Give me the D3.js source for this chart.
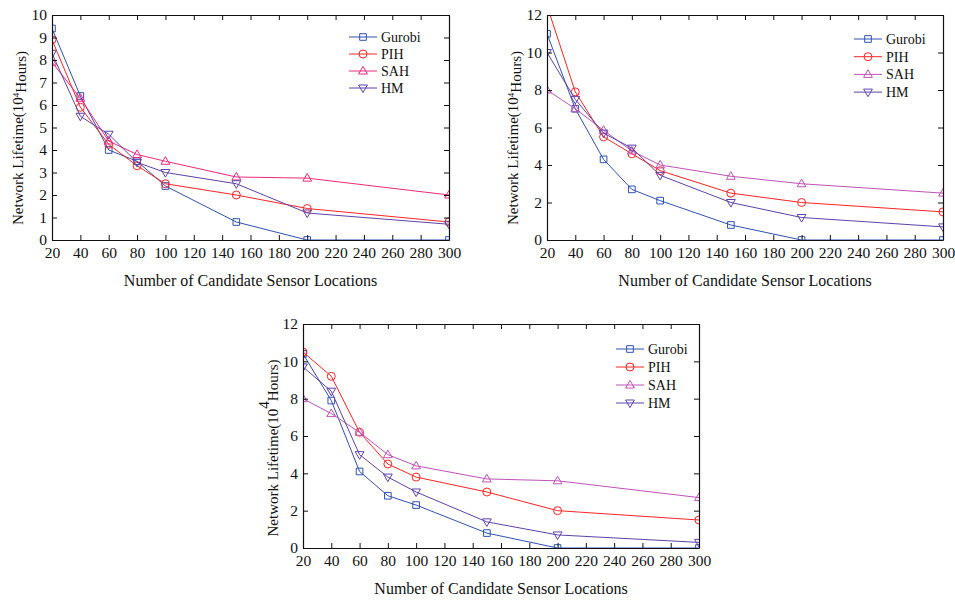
<!DOCTYPE html>
<html>
<head>
<meta charset="utf-8">
<script src="https://cdn.jsdelivr.net/npm/d3@7/dist/d3.min.js"></script>
<style>
    html, body { margin: 0; padding: 0; background: #fff; }
    svg { display: block; font-family: "Liberation Serif", "Times New Roman", serif; }
</style>
</head>
<body>
<div id="chart"></div>
<script>
// Data
var xValues = [20, 40, 60, 80, 100, 150, 200, 300];
var xTickValues = [20, 40, 60, 80, 100, 120, 140, 160, 180, 200, 220, 240, 260, 280, 300];
var yTicksA = [0, 1, 2, 3, 4, 5, 6, 7, 8, 9, 10];
var yTicksB = [0, 2, 4, 6, 8, 10, 12];
var seriesNames = ['Gurobi', 'PIH', 'SAH', 'HM'];

// top left panel
var gurobiA = [9.4, 6.4, 4.0, 3.5, 2.4, 0.8, 0, 0];
var pihA = [8.9, 5.9, 4.25, 3.3, 2.5, 2.0, 1.4, 0.8];
var sahA = [7.9, 6.3, 4.4, 3.8, 3.5, 2.8, 2.75, 2.0];
var hmA = [8.3, 5.5, 4.7, 3.45, 3.0, 2.5, 1.2, 0.7];

// top right panel
var gurobiB = [11.0, 7.0, 4.3, 2.7, 2.1, 0.8, 0, 0];
var pihB = [12.5, 7.9, 5.5, 4.6, 3.7, 2.5, 2.0, 1.5];
var sahB = [8.0, 7.0, 5.85, 4.75, 4.0, 3.4, 3.0, 2.5];
var hmB = [10.0, 7.5, 5.7, 4.9, 3.45, 2.0, 1.2, 0.7];

// bottom panel
var gurobiC = [10.4, 7.9, 4.1, 2.8, 2.3, 0.8, 0, 0];
var pihC = [10.5, 9.2, 6.2, 4.5, 3.8, 3.0, 2.0, 1.5];
var sahC = [8.0, 7.2, 6.2, 5.0, 4.4, 3.7, 3.6, 2.7];
var hmC = [9.7, 8.4, 5.0, 3.8, 3.0, 1.4, 0.7, 0.3];

var colors = { Gurobi: '#2f52b5', PIH: '#ff2424', HM: '#5f42aa' };
var markers = { Gurobi: 'square', PIH: 'circle', SAH: 'up', HM: 'down' };

var panels = [
    { id: 'a', left: 52, right: 449, top: 15, bottom: 240, yMax: 10, yTicks: yTicksA,
      values: [gurobiA, pihA, sahA, hmA], sahColor: '#f0287c',
      legendX: 349, legendY: 37, legendStep: 17, labelX: 18, labelY: 138, supBig: false },
    { id: 'b', left: 547, right: 943, top: 15, bottom: 240, yMax: 12, yTicks: yTicksB,
      values: [gurobiB, pihB, sahB, hmB], sahColor: '#c052b8',
      legendX: 854, legendY: 39, legendStep: 17.7, labelX: 513, labelY: 138, supBig: false },
    { id: 'c', left: 303, right: 699, top: 324, bottom: 548, yMax: 12, yTicks: yTicksB,
      values: [gurobiC, pihC, sahC, hmC], sahColor: '#c052b8',
      legendX: 616, legendY: 349, legendStep: 18, labelX: 273, labelY: 448, supBig: true }
];

var svg = d3.select('#chart').append('svg')
    .attr('width', 955)
    .attr('height', 601);

function markerPath(type) {
    if (type === 'square') return d3.symbol(d3.symbolSquare, 44)();
    if (type === 'up') return 'M0,-4.6L4.4,3L-4.4,3Z';
    if (type === 'down') return 'M0,4.6L4.4,-3L-4.4,-3Z';
    return null;
}

function drawMarker(g, type, color, cx, cy) {
    if (type === 'circle') {
        g.append('circle')
            .attr('cx', cx).attr('cy', cy).attr('r', 4)
            .attr('fill', 'none').attr('stroke', color).attr('stroke-width', 1);
    } else {
        g.append('path')
            .attr('d', markerPath(type))
            .attr('transform', 'translate(' + cx + ',' + cy + ')')
            .attr('fill', 'none').attr('stroke', color).attr('stroke-width', 1);
    }
}

function styleAxis(g) {
    g.attr('font-family', null).attr('font-size', null);
    g.select('.domain').attr('stroke', '#111').attr('stroke-width', 1.2);
    g.selectAll('.tick line').attr('stroke', '#111');
    g.selectAll('.tick text').style('font-size', '15.5px').attr('fill', '#111');
}

panels.forEach(function (p) {
    var x = d3.scaleLinear().domain([20, 300]).range([p.left, p.right]);
    var y = d3.scaleLinear().domain([0, p.yMax]).range([p.bottom, p.top]);
    var w = p.right - p.left;
    var h = p.bottom - p.top;

    svg.append('clipPath').attr('id', 'clip-' + p.id)
        .append('rect')
        .attr('x', p.left).attr('y', p.top)
        .attr('width', w).attr('height', h);

    var plot = svg.append('g').attr('clip-path', 'url(#clip-' + p.id + ')');

    var line = d3.line()
        .x(function (d, i) { return x(xValues[i]); })
        .y(function (d) { return y(d); });

    seriesNames.forEach(function (name, k) {
        var color = name === 'SAH' ? p.sahColor : colors[name];
        var vals = p.values[k];
        plot.append('path')
            .datum(vals)
            .attr('fill', 'none')
            .attr('stroke', color)
            .attr('stroke-width', 1)
            .attr('d', line);
        vals.forEach(function (v, i) {
            drawMarker(plot, markers[name], color, x(xValues[i]), y(v));
        });
    });

    // Axes, ticks pointing inward on all four sides
    svg.append('g')
        .attr('transform', 'translate(0,' + p.bottom + ')')
        .call(d3.axisBottom(x).tickValues(xTickValues).tickSizeInner(-5).tickSizeOuter(0).tickPadding(7))
        .call(styleAxis);
    svg.append('g')
        .attr('transform', 'translate(0,' + p.top + ')')
        .call(d3.axisTop(x).tickValues(xTickValues).tickSizeInner(-5).tickSizeOuter(0).tickFormat(''))
        .call(styleAxis);
    svg.append('g')
        .attr('transform', 'translate(' + p.left + ',0)')
        .call(d3.axisLeft(y).tickValues(p.yTicks).tickSizeInner(-5).tickSizeOuter(0).tickPadding(5))
        .call(styleAxis);
    svg.append('g')
        .attr('transform', 'translate(' + p.right + ',0)')
        .call(d3.axisRight(y).tickValues(p.yTicks).tickSizeInner(-5).tickSizeOuter(0).tickFormat(''))
        .call(styleAxis);

    // x title
    svg.append('text')
        .attr('x', (p.left + p.right) / 2)
        .attr('y', p.bottom + 46)
        .attr('text-anchor', 'middle')
        .style('font-size', '16px')
        .attr('fill', '#111')
        .text('Number of Candidate Sensor Locations');

    // y title
    var yt = svg.append('text')
        .attr('transform', 'translate(' + p.labelX + ',' + p.labelY + ') rotate(-90)')
        .attr('text-anchor', 'middle')
        .attr('dy', '0.35em')
        .style('font-size', '15px')
        .attr('fill', '#111');
    yt.append('tspan').text('Network Lifetime(10');
    yt.append('tspan')
        .attr('dy', p.supBig ? '-0.6em' : '-0.5em')
        .style('font-size', p.supBig ? '15px' : '9px')
        .text('4');
    yt.append('tspan')
        .attr('dy', p.supBig ? '0.6em' : '0.5em')
        .text('Hours)');

    // legend
    var lg = svg.append('g');
    seriesNames.forEach(function (name, k) {
        var color = name === 'SAH' ? p.sahColor : colors[name];
        var ly = p.legendY + k * p.legendStep;
        lg.append('line')
            .attr('x1', p.legendX).attr('x2', p.legendX + 28)
            .attr('y1', ly).attr('y2', ly)
            .attr('stroke', color).attr('stroke-width', 1);
        drawMarker(lg, markers[name], color, p.legendX + 14, ly);
        lg.append('text')
            .attr('x', p.legendX + 32)
            .attr('y', ly)
            .attr('dy', '0.35em')
            .style('font-size', '14px')
            .attr('fill', '#111')
            .text(name);
    });
});
</script>
</body>
</html>
